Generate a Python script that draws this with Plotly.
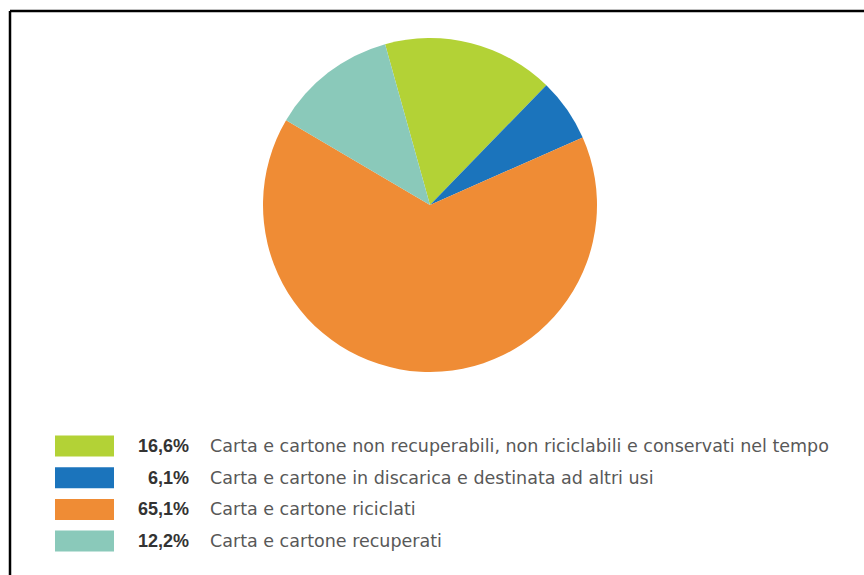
import plotly.graph_objects as go

# ---- data ----
categories = [
    "Carta e cartone non recuperabili, non riciclabili e conservati nel tempo",
    "Carta e cartone in discarica e destinata ad altri usi",
    "Carta e cartone riciclati",
    "Carta e cartone recuperati",
]
values = [16.6, 6.1, 65.1, 12.2]
pct_labels = ["16,6%", "6,1%", "65,1%", "12,2%"]
colors = ["#b3d236", "#1b74bc", "#ef8c35", "#8ac9ba"]

W, H = 864, 575

fig = go.Figure()

# pie geometry (pixels)
cx, cy, r = 430, 205, 167
fig.add_trace(go.Pie(
    labels=categories,
    values=values,
    marker=dict(colors=colors, line=dict(width=0)),
    sort=False,
    direction="clockwise",
    rotation=-15.6,
    textinfo="none",
    hovertemplate="%{label}: %{value}%<extra></extra>",
    showlegend=False,
    domain=dict(x=[(cx - r) / W, (cx + r) / W], y=[1 - (cy + r) / H, 1 - (cy - r) / H]),
))

shapes = []
annotations = []

# frame (only top and left edges visible)
shapes.append(dict(type="line", xref="paper", yref="paper",
                   x0=10 / W, x1=1.0, y0=1 - 11 / H, y1=1 - 11 / H,
                   line=dict(color="black", width=2.5)))
shapes.append(dict(type="line", xref="paper", yref="paper",
                   x0=10 / W, x1=10 / W, y0=0, y1=1 - 11 / H,
                   line=dict(color="black", width=2.5)))

# legend
row0, row_step = 446, 31.7
sw_x0, sw_x1, sw_h = 55, 114, 21
pct_right = 191
desc_left = 208
for i, (cat, pct, col) in enumerate(zip(categories, pct_labels, colors)):
    yc = row0 + i * row_step
    shapes.append(dict(type="rect", xref="paper", yref="paper",
                       x0=sw_x0 / W, x1=sw_x1 / W,
                       y0=1 - (yc + sw_h / 2) / H, y1=1 - (yc - sw_h / 2) / H,
                       fillcolor=col, line=dict(width=0)))
    annotations.append(dict(xref="paper", yref="paper", x=pct_right / W, y=1 - yc / H,
                            text="<b>" + pct + "</b>", showarrow=False,
                            xanchor="right", yanchor="middle",
                            font=dict(family="Liberation Sans", size=18, color="#333333")))
    annotations.append(dict(xref="paper", yref="paper", x=desc_left / W, y=1 - yc / H,
                            text=cat, showarrow=False,
                            xanchor="left", yanchor="middle",
                            font=dict(family="DejaVu Sans", size=17.5, color="#585858")))

fig.update_layout(
    width=W, height=H,
    margin=dict(l=0, r=0, t=0, b=0),
    paper_bgcolor="white",
    plot_bgcolor="white",
    shapes=shapes,
    annotations=annotations,
)

fig.write_html("out.html")
